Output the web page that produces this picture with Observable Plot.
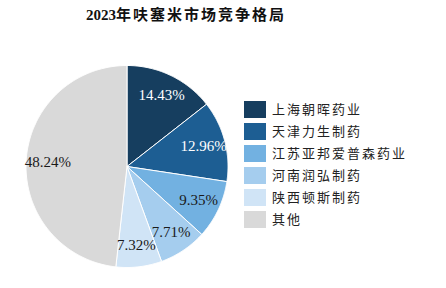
<!DOCTYPE html>
<html><head><meta charset="utf-8">
<script src="https://cdn.jsdelivr.net/npm/d3@7"></script>
<script src="https://cdn.jsdelivr.net/npm/@observablehq/plot@0.6"></script>
<style>
body{margin:0;background:#fff;}
#wrap{position:relative;width:446px;height:288px;overflow:hidden;}
#title{position:absolute;left:86px;top:3px;font:bold 15px "Liberation Serif","Noto Sans CJK SC",serif;color:#111;white-space:nowrap;}
#title .cjk{letter-spacing:2px;}
#legend{position:absolute;left:244px;top:101px;}
#legend div{font-family:"Liberation Serif","Noto Sans CJK SC",serif !important;font-size:13px !important;color:#222 !important;letter-spacing:2px !important;}
.lg-swatches{margin:0 !important;min-height:0 !important;}
.lg-swatch{height:22px !important;padding:0 !important;margin:0 !important;display:flex !important;align-items:flex-start !important;}
.lg-swatch svg{margin-right:6px !important;}
.lg-swatch div{line-height:17px !important;}
</style></head>
<body><div id="wrap"><div id="title"><span>2023</span><span class="cjk">年呋塞米市场竞争格局</span></div><div id="legend"></div></div>
<script>
const names = ["上海朝晖药业","天津力生制药","江苏亚邦爱普森药业","河南润弘制药","陕西顿斯制药","其他"];
const shares = [14.43,12.96,9.35,7.71,7.32,48.24];
const colors = ["#163e5f","#1d5e93","#72b1e1","#a5cdee","#d0e4f6","#d9d9d9"];
const labelColors = ["#ffffff","#ffffff","#1a1a1a","#1a1a1a","#1a1a1a","#1a1a1a"];

const pie = d3.pie().sort(null).value(d => d)(shares);
const pts = [];
const labels = [];
pie.forEach((p, i) => {
  const a0 = p.startAngle, a1 = p.endAngle;
  pts.push({name: names[i], x: 0, y: 0});
  const n = Math.max(2, Math.ceil((a1 - a0) / 0.01));
  for (let k = 0; k <= n; k++) {
    const a = a0 + (a1 - a0) * k / n;
    pts.push({name: names[i], x: Math.sin(a), y: Math.cos(a)});
  }
  pts.push({name: names[i], x: 0, y: 0});
  const m = (a0 + a1) / 2, r = 0.785;
  labels.push({text: shares[i].toFixed(2) + "%", x: r * Math.sin(m), y: r * Math.cos(m), c: labelColors[i]});
});

const cx = 126.5, cy = 166, R = 101;
const chart = Plot.plot({
  width: 446, height: 288,
  margin: 0,
  style: {background: "transparent"},
  x: {domain: [-1, 1], range: [cx - R, cx + R], axis: null},
  y: {domain: [-1, 1], range: [cy + R, cy - R], axis: null},
  color: {domain: names, range: colors},
  marks: [
    Plot.line(pts, {x: "x", y: "y", z: "name", fill: "name", stroke: "#ffffff", strokeWidth: 1, curve: "linear"}),
    Plot.text(labels, {x: "x", y: "y", text: "text", fill: "c", fontSize: 15, fontFamily: "Liberation Serif, serif", textAnchor: "middle"})
  ]
});
document.getElementById("wrap").appendChild(chart);
const leg = chart.legend("color", {legend: "swatches", columns: 1, swatchWidth: 22, swatchHeight: 17, className: "lg"});
document.getElementById("legend").appendChild(leg);
</script>
</body></html>
